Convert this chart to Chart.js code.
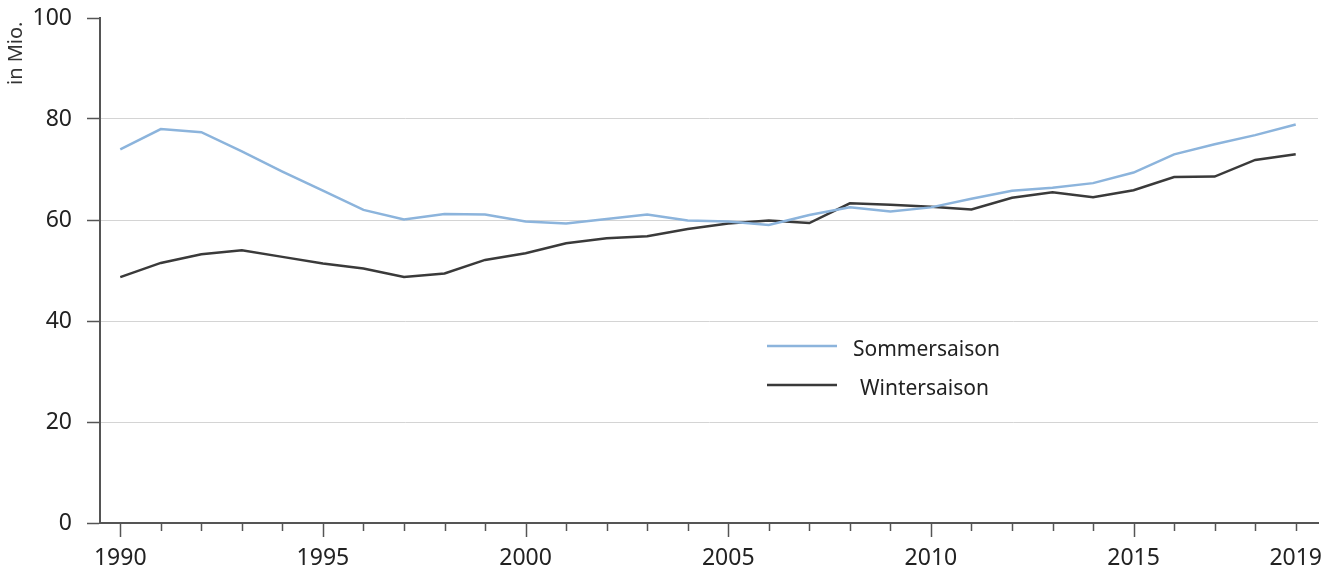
<!DOCTYPE html>
<html>
<head>
<meta charset="utf-8">
<script src="https://cdn.jsdelivr.net/npm/chart.js@4/dist/chart.umd.min.js"></script>
<style>
  html, body { margin: 0; padding: 0; background: #fff; }
  #wrap { width: 1340px; height: 579px; }
</style>
</head>
<body>
<div id="wrap"><canvas id="chart" width="1340" height="579"></canvas></div>
<script>
// Übernachtungen in Mio., Sommer- und Wintersaison
const years = [];
for (let y = 1990; y <= 2019; y++) years.push(y);

const sommer = [74.0, 78.0, 77.4, 73.6, 69.6, 65.8, 62.0, 60.1, 61.2, 61.1,
                59.7, 59.3, 60.2, 61.1, 59.9, 59.7, 59.0, 61.0, 62.5, 61.7,
                62.5, 64.2, 65.8, 66.4, 67.3, 69.4, 73.0, 75.0, 76.8, 78.9];
const winter = [48.7, 51.5, 53.2, 54.0, 52.7, 51.4, 50.4, 48.7, 49.4, 52.1,
                53.4, 55.4, 56.4, 56.8, 58.2, 59.3, 59.9, 59.4, 63.3, 63.0,
                62.6, 62.1, 64.4, 65.5, 64.5, 65.9, 68.5, 68.6, 71.9, 73.0];
const seriesLabels = ['Sommersaison', 'Wintersaison'];
const yTicks = [0, 20, 40, 60, 80, 100];
const yTitle = 'in Mio.';

const FONT = '"Noto Sans", sans-serif';
const AXIS = '#555555';

const toPoints = arr => arr.map((v, i) => ({ x: years[i], y: v }));

// kleine und grosse Teilstriche an der x-Achse
const xTickMarks = {
    id: 'xTickMarks',
    afterDraw(chart) {
        const { ctx, scales: { x, y } } = chart;
        const base = y.getPixelForValue(0);
        ctx.save();
        ctx.strokeStyle = AXIS;
        ctx.lineWidth = 1.5;
        x.ticks.forEach(t => {
            const px = Math.round(x.getPixelForValue(t.value)) + 0.5;
            const len = t.value % 5 === 0 ? 14 : 8;
            ctx.beginPath();
            ctx.moveTo(px, base);
            ctx.lineTo(px, base + len);
            ctx.stroke();
        });
        ctx.restore();
    },
};

// Achsentitel oben links, gedreht
const yTitlePlugin = {
    id: 'yTitlePlugin',
    afterDraw(chart) {
        const ctx = chart.ctx;
        ctx.save();
        ctx.translate(16, 85);
        ctx.rotate(-Math.PI / 2);
        ctx.font = '20px ' + FONT;
        ctx.fillStyle = '#333';
        ctx.textAlign = 'left';
        ctx.textBaseline = 'middle';
        ctx.fillText(yTitle, 0, 0);
        ctx.restore();
    },
};

// Legende mitten im Diagramm
const innerLegend = {
    id: 'innerLegend',
    afterDraw(chart) {
        const ctx = chart.ctx;
        ctx.save();
        chart.data.datasets.forEach((ds, i) => {
            const ly = 346 + i * 39;
            ctx.strokeStyle = ds.borderColor;
            ctx.lineWidth = ds.borderWidth;
            ctx.beginPath();
            ctx.moveTo(767, ly);
            ctx.lineTo(837, ly);
            ctx.stroke();
            ctx.font = '21px ' + FONT;
            ctx.fillStyle = '#222';
            ctx.textBaseline = 'middle';
            ctx.fillText(ds.label, i === 0 ? 853 : 860, ly + 4);
        });
        ctx.restore();
    },
};

new Chart(document.getElementById('chart').getContext('2d'), {
    type: 'line',
    data: {
        datasets: [
            {
                label: seriesLabels[0],
                data: toPoints(sommer),
                borderColor: '#8cb4dc',
                borderWidth: 2.5,
                pointRadius: 0,
                tension: 0,
            },
            {
                label: seriesLabels[1],
                data: toPoints(winter),
                borderColor: '#3a3a3a',
                borderWidth: 2.5,
                pointRadius: 0,
                tension: 0,
            },
        ],
    },
    options: {
        responsive: false,
        animation: false,
        layout: { padding: { top: 18, right: 22, left: 0, bottom: 0 } },
        plugins: {
            legend: { display: false },
            tooltip: { enabled: false },
        },
        scales: {
            x: {
                type: 'linear',
                min: 1989.5,
                max: 2019.55,
                afterFit: s => { s.height = 56; s.paddingLeft = 0; s.paddingRight = 0; },
                grid: { display: false },
                border: { display: true, color: AXIS, width: 2 },
                ticks: {
                    stepSize: 1,
                    includeBounds: false,
                    autoSkip: false,
                    maxRotation: 0,
                    padding: 14,
                    color: '#222',
                    font: { family: FONT, size: 23 },
                    callback: v => (v % 5 === 0 || v === 2019) ? String(v) : '',
                },
            },
            y: {
                min: 0,
                max: 100,
                afterFit: s => { s.width = 100; s.paddingTop = 0; s.paddingBottom = 0; },
                afterBuildTicks: s => { s.ticks = yTicks.map(v => ({ value: v })); },
                grid: {
                    color: c => (c.tick && (c.tick.value === 0 || c.tick.value === 100)) ? 'rgba(0,0,0,0)' : '#d4d4d4',
                    lineWidth: 1,
                    tickLength: 13,
                    tickColor: AXIS,
                    tickWidth: 1.5,
                },
                border: { display: true, color: AXIS, width: 2 },
                ticks: {
                    padding: 15,
                    color: '#222',
                    font: { family: FONT, size: 23 },
                },
            },
        },
    },
    plugins: [xTickMarks, yTitlePlugin, innerLegend],
});
</script>
</body>
</html>
